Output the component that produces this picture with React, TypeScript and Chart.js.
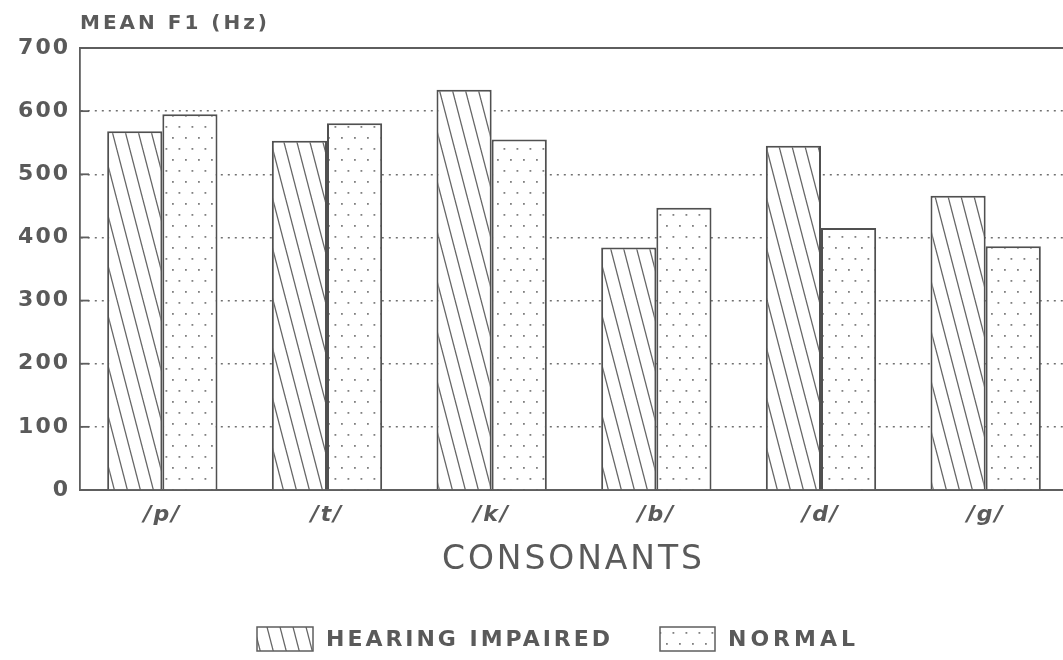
import React, { useEffect, useRef } from 'react';
import { Chart, registerables } from 'chart.js';

Chart.register(...registerables);

const categories = ['/p/', '/t/', '/k/', '/b/', '/d/', '/g/'];
const hearingImpaired = [568, 553, 634, 384, 545, 466];
const normal = [595, 581, 555, 447, 415, 386];
const seriesLabels = ['HEARING IMPAIRED', 'NORMAL'];
const yMin = 0;
const yMax = 700;
const yStep = 100;
const yTitle = 'MEAN F1 (Hz)';
const xTitle = 'CONSONANTS';

const INK = '#5a5a5a';
const LINE = '#5e5e5e';
const FONT = '"DejaVu Sans", "Liberation Sans", sans-serif';

function makeHatch(ctx: CanvasRenderingContext2D): CanvasPattern {
  const c = document.createElement('canvas');
  const w = 13;
  const h = 50;
  c.width = w;
  c.height = h;
  const g = c.getContext('2d')!;
  g.fillStyle = '#ffffff';
  g.fillRect(0, 0, w, h);
  g.strokeStyle = '#666666';
  g.lineWidth = 1.3;
  for (const i of [-1, 0, 1]) {
    g.beginPath();
    g.moveTo(i * w, 0);
    g.lineTo(i * w + w, h);
    g.stroke();
  }
  return ctx.createPattern(c, 'repeat')!;
}

function makeDots(ctx: CanvasRenderingContext2D): CanvasPattern {
  const c = document.createElement('canvas');
  c.width = 13;
  c.height = 22;
  const g = c.getContext('2d')!;
  g.fillStyle = '#ffffff';
  g.fillRect(0, 0, 13, 22);
  g.fillStyle = '#808080';
  g.fillRect(3, 5, 1.8, 1.8);
  g.fillRect(9.5, 16, 1.8, 1.8);
  return ctx.createPattern(c, 'repeat')!;
}

function fitText(
  ctx: CanvasRenderingContext2D,
  text: string,
  left: number,
  midY: number,
  targetW: number,
  font: string
) {
  ctx.font = font;
  (ctx as any).letterSpacing = '0px';
  const w = ctx.measureText(text).width;
  const sp = text.length > 1 ? (targetW - w) / (text.length - 1) : 0;
  (ctx as any).letterSpacing = sp + 'px';
  ctx.textAlign = 'left';
  ctx.textBaseline = 'middle';
  ctx.fillText(text, left, midY);
  (ctx as any).letterSpacing = '0px';
}

const decor = {
  id: 'decor',
  beforeDraw(chart: any) {
    chart.ctx.letterSpacing = '2px';
  },
  afterDraw(chart: any) {
    const { ctx, chartArea: a, scales } = chart;
    ctx.save();
    ctx.letterSpacing = '0px';
    // top frame line
    ctx.strokeStyle = LINE;
    ctx.lineWidth = 2;
    ctx.beginPath();
    ctx.moveTo(a.left, a.top);
    ctx.lineTo(a.right, a.top);
    ctx.stroke();
    // inward tick marks
    ctx.lineWidth = 1.8;
    scales.y.ticks.forEach((t: any) => {
      const y = scales.y.getPixelForValue(t.value);
      ctx.beginPath();
      ctx.moveTo(a.left, y);
      ctx.lineTo(a.left + 9, y);
      ctx.stroke();
    });
    ctx.fillStyle = INK;
    // y title
    fitText(ctx, yTitle, 80, 24, 187, `bold 20px ${FONT}`);
    // x title
    fitText(ctx, xTitle, 442, 560, 260, `33px ${FONT}`);
    // legend
    const items = [
      { box: [257, 627, 56, 24], textLeft: 326, textW: 284 },
      { box: [660, 627, 55, 24], textLeft: 728, textW: 127 },
    ];
    chart.data.datasets.forEach((ds: any, i: number) => {
      const it = items[i];
      const [bx, by, bw, bh] = it.box;
      ctx.fillStyle = ds.backgroundColor;
      ctx.fillRect(bx, by, bw, bh);
      ctx.strokeStyle = LINE;
      ctx.lineWidth = 1.5;
      ctx.strokeRect(bx, by, bw, bh);
      ctx.fillStyle = INK;
      fitText(ctx, ds.label, it.textLeft, by + bh / 2 + 1, it.textW, `bold 22px ${FONT}`);
    });
    ctx.restore();
  },
};

export default function App() {
  const ref = useRef<HTMLCanvasElement>(null);

  useEffect(() => {
    const canvas = ref.current!;
    const c2d = canvas.getContext('2d')!;
    const hatch = makeHatch(c2d);
    const dots = makeDots(c2d);
    const chart = new Chart(canvas, {
      type: 'bar',
      data: {
        labels: categories,
        datasets: [
          {
            label: seriesLabels[0],
            data: hearingImpaired,
            backgroundColor: hatch as any,
            borderColor: '#505050',
            borderWidth: 2,
            categoryPercentage: 0.67,
            barPercentage: 1.0,
          },
          {
            label: seriesLabels[1],
            data: normal,
            backgroundColor: dots as any,
            borderColor: '#505050',
            borderWidth: 2,
            categoryPercentage: 0.67,
            barPercentage: 1.0,
          },
        ],
      },
      options: {
        responsive: false,
        animation: false,
        devicePixelRatio: 1,
        layout: { padding: { left: 0, right: 2, top: 48, bottom: 0 } },
        plugins: {
          legend: { display: false },
          title: { display: false },
          tooltip: { enabled: false },
        },
        scales: {
          x: {
            grid: { display: false, drawTicks: false },
            border: { display: true, color: LINE, width: 2 },
            ticks: {
              color: INK,
              padding: 12,
              maxRotation: 0,
              autoSkip: false,
              font: { family: FONT, size: 22, style: 'italic', weight: 'bold' },
            },
            afterFit: (s: any) => {
              s.height = 170;
            },
          },
          y: {
            min: yMin,
            max: yMax,
            grid: {
              drawTicks: false,
              color: (c: any) =>
                c.tick && (c.tick.value === yMin || c.tick.value === yMax)
                  ? 'rgba(0,0,0,0)'
                  : '#707070',
              lineWidth: 1.5,
            },
            border: { display: true, color: LINE, width: 1.8, dash: [2, 5] },
            ticks: {
              stepSize: yStep,
              color: INK,
              padding: 10,
              font: { family: FONT, size: 22, weight: 'bold' },
            },
            afterFit: (s: any) => {
              s.width = 80;
            },
          },
        },
      },
      plugins: [decor],
    });
    return () => chart.destroy();
  }, []);

  return (
    <div
      style={{
        position: 'fixed',
        left: 0,
        top: 0,
        width: 1063,
        height: 660,
        overflow: 'hidden',
        background: '#ffffff',
      }}
    >
      <canvas ref={ref} width={1070} height={660} style={{ display: 'block' }} />
    </div>
  );
}
